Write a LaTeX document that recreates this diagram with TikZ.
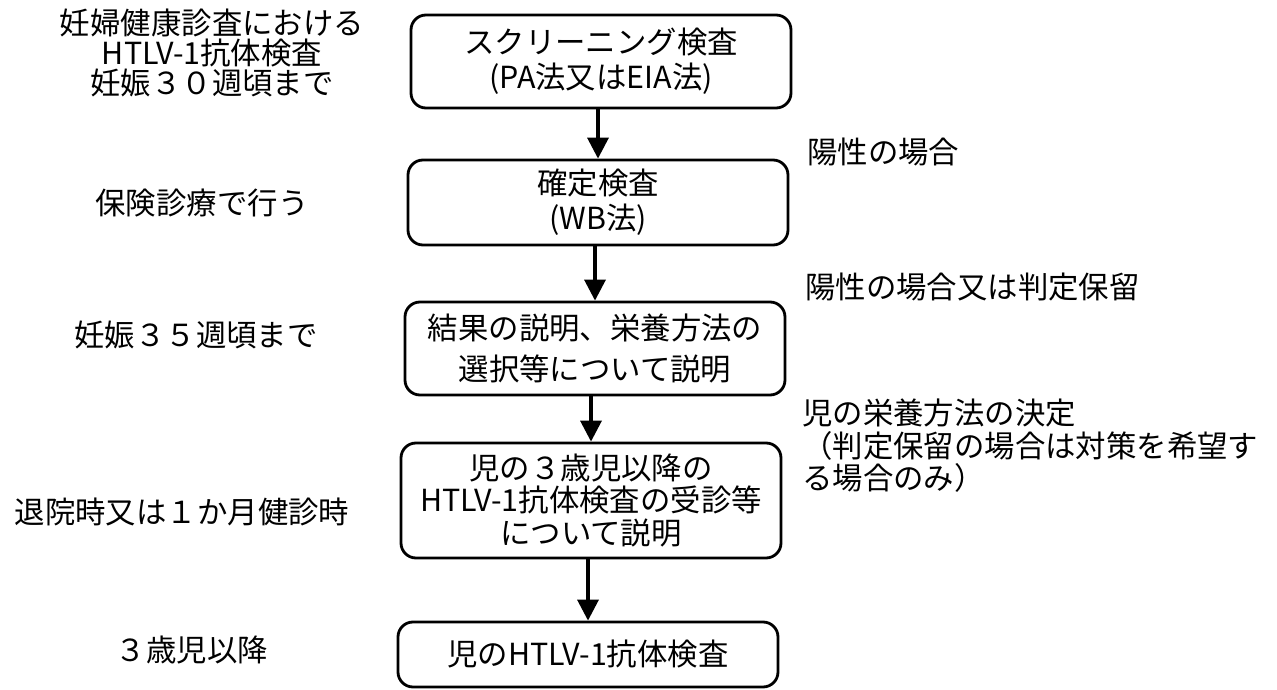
\documentclass[tikz,border=0pt]{standalone}
\usepackage{fontspec}
\setmainfont{Noto Sans CJK JP}
\usetikzlibrary{arrows.meta}

\begin{document}
\begin{tikzpicture}[
    stepbox/.style={draw, line width=1.6pt, rounded corners=0.3cm, align=center,
        minimum width=7.6cm, inner sep=0pt, font=\fontsize{17.3pt}{19.9pt}\selectfont},
    note/.style={inner sep=0pt, font=\fontsize{17.3pt}{18.5pt}\selectfont},
    flow/.style={line width=2pt, -{Triangle[length=0.42cm, width=0.42cm]}}
]

    % page frame
    \useasboundingbox (0,0) rectangle (25.54,13.8);

    % flow boxes
    \node [stepbox, minimum height=1.86cm] (screen) at (12.02,12.57)
        {スクリーニング検査\\(PA法又はEIA法)};
    \node [stepbox, minimum height=1.7cm] (confirm) at (11.96,9.75)
        {確定検査\\(WB法)};
    \node [stepbox, minimum height=1.86cm, font=\fontsize{17.3pt}{22.8pt}\selectfont] (explain) at (11.90,6.83)
        {結果の説明、栄養方法の\\選択等について説明};
    \node [stepbox, minimum height=2.3cm, font=\fontsize{17.3pt}{18.5pt}\selectfont] (child) at (11.82,3.79)
        {児の３歳児以降の\\HTLV-1抗体検査の受診等\\について説明};
    \node [stepbox, minimum height=1.3cm] (test) at (11.76,0.71)
        {児のHTLV-1抗体検査};

    % arrows
    \draw [flow] (confirm.north |- screen.south) -- (confirm.north);
    \draw [flow] (explain.north |- confirm.south) -- (explain.north);
    \draw [flow] (child.north |- explain.south) -- (child.north);
    \draw [flow] (test.north |- child.south) -- (test.north);

    % timing on the left
    \node [note, align=center, font=\fontsize{17.3pt}{15.6pt}\selectfont] (when1) at (4.24,12.74)
        {妊婦健康診査における\\HTLV-1抗体検査\\妊娠３０週頃まで};
    \node [note] (when2) at (4.04,9.74) {保険診療で行う};
    \node [note] (when3) at (3.92,7.10) {妊娠３５週頃まで};
    \node [note] (when4) at (3.64,3.56) {退院時又は１か月健診時};
    \node [note] (when5) at (3.84,0.80) {３歳児以降};

    % conditions on the right
    \node [note, anchor=west] (cond1) at (16.14,10.76) {陽性の場合};
    \node [note, anchor=west] (cond2) at (16.10,8.06) {陽性の場合又は判定保留};
    \node [note, anchor=west, align=left] (cond3) at (16.04,4.88)
        {児の栄養方法の決定\\（判定保留の場合は対策を希望す\\る場合のみ）};

\end{tikzpicture}
\end{document}
